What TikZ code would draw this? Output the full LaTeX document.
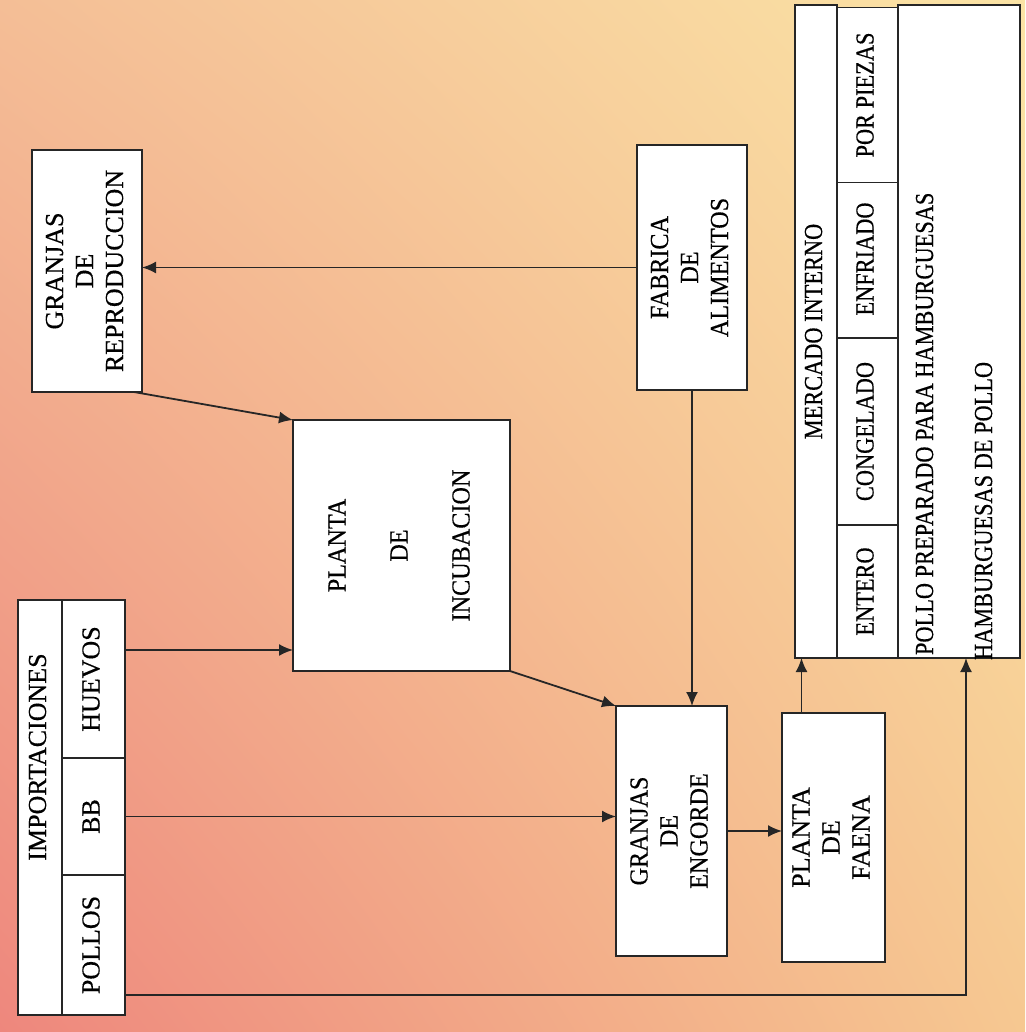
\documentclass[tikz,border=0pt]{standalone}
\usepackage{fontspec}
\setmainfont{Liberation Serif}[FakeBold=0.35]
\newfontfamily\midfont{Liberation Serif}[FakeStretch=0.93,FakeBold=0.35]
\newfontfamily\rfont{Liberation Serif}[FakeStretch=0.86,FakeBold=0.35]
\usetikzlibrary{arrows.meta,calc,shadings}
\definecolor{bgul}{RGB}{244,190,150}
\definecolor{bgur}{RGB}{251,228,165}
\definecolor{bgll}{RGB}{238,135,125}
\definecolor{bglr}{RGB}{246,200,145}
\begin{document}
\begin{tikzpicture}[x=0.5pt,y=-0.5pt,
  box/.style={draw=black!85,fill=white,line width=0.9pt,inner sep=0pt,outer sep=0pt,align=center,
    font=\fontsize{13}{15}\selectfont},
  lbl/.style={inner sep=0pt,outer sep=0pt,font=\fontsize{13}{15}\selectfont},
  arr/.style={draw=black!85,line width=0.9pt,-{Latex[length=7pt,width=6pt]}}]
\newcommand{\rt}[1]{\rotatebox{90}{\begin{tabular}{@{}c@{}}#1\end{tabular}}}
% background
\shade[upper left=bgul,upper right=bgur,lower left=bgll,lower right=bglr]
  (0,0) rectangle (1025,1032);
\useasboundingbox (0,0) rectangle (1025,1032);
% boxes
\node[box,minimum width=55pt,minimum height=121pt] (gr) at (87,271) {\rt{GRANJAS\\DE\\REPRODUCCION}};
\node[box,minimum width=55pt,minimum height=122.5pt] (fab) at (692,267.5) {\midfont\rt{FABRICA\\DE\\ALIMENTOS}};
\node[box,minimum width=108.5pt,minimum height=125.5pt] (inc) at (401.5,545.5) {\midfont\rt{PLANTA\\[16pt]DE\\[16pt]INCUBACION}};
\node[box,minimum width=55.5pt,minimum height=125pt] (eng) at (671.5,831) {\midfont\rt{GRANJAS\\DE\\ENGORDE}};
\node[box,minimum width=51.5pt,minimum height=124.5pt] (fae) at (833.5,837.5) {\rt{PLANTA\\DE\\FAENA}};
% importaciones
\node[box,minimum width=22pt,minimum height=207.5pt] (imp) at (40,807.5) {};
\node[lbl] (implbl) at (40,757) {\rt{IMPORTACIONES}};
\node[box,minimum width=31.5pt,minimum height=79pt] (huevos) at (93.5,679) {\rt{HUEVOS}};
\node[box,minimum width=31.5pt,minimum height=58.5pt] (bb) at (93.5,816.5) {\rt{BB}};
\node[box,minimum width=31.5pt,minimum height=70pt] (pollos) at (93.5,945) {\rt{POLLOS}};
% mercado interno
\node[box,minimum width=21pt,minimum height=326.5pt] (mer) at (816,331.5) {\rfont\rt{MERCADO INTERNO}};
\node[box,minimum width=30.5pt,minimum height=66.5pt] (entero) at (867.5,591.5) {\rfont\rt{ENTERO}};
\node[box,minimum width=30.5pt,minimum height=93.5pt] (cong) at (867.5,431.5) {\rfont\rt{CONGELADO}};
\node[box,minimum width=30.5pt,minimum height=79pt] (enfr) at (867.5,259) {\rfont\rt{ENFRIADO}};
\node[box,minimum width=30.5pt,minimum height=87.5pt] (piezas) at (867.5,95) {\rfont\rt{POR PIEZAS}};
\node[box,minimum width=61pt,minimum height=326.5pt] (prep) at (959,331.5) {};
\node[lbl,anchor=south] (preplbl) at (927,655) {\rfont\rt{POLLO PREPARADO PARA HAMBURGUESAS}};
\node[lbl,anchor=south] (hamlbl) at (986,660) {\rfont\rt{HAMBURGUESAS DE POLLO}};
% connectors
\draw[arr] (fab.west) -- (fab.west -| gr.east);
\draw[arr] ([xshift=-4pt]gr.south east) -- (inc.north west);
\draw[arr] ([yshift=14.5pt]huevos.east) -- ([yshift=14.5pt]huevos.east -| inc.west);
\draw[arr] (inc.south east) -- (eng.north west);
\draw[arr] (fab.south) -- (fab.south |- eng.north);
\draw[arr] (bb.east) -- (bb.east -| eng.west);
\draw[arr] (eng.east) -- (eng.east -| fae.west);
\draw[arr] ([xshift=-16pt]fae.north) -- ([xshift=-16pt]fae.north |- mer.south);
\draw[arr] ([yshift=-25pt]pollos.east) -| ([xshift=3.5pt]prep.south);
\end{tikzpicture}
\end{document}
